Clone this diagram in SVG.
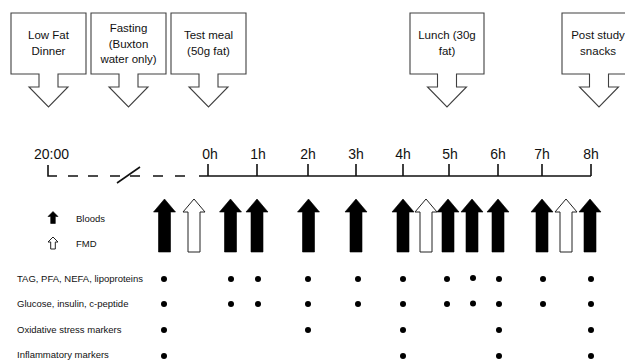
<svg xmlns="http://www.w3.org/2000/svg" width="625" height="360" viewBox="0 0 625 360">
<style>
.box{fill:#fff;stroke:#404040;stroke-width:1.1}
.bt{font-family:"Liberation Sans",Arial,sans-serif;font-size:11.5px;fill:#111;text-anchor:middle}
.hr{font-family:"Liberation Sans",Arial,sans-serif;font-size:14px;fill:#111;text-anchor:middle}
.lb{font-family:"Liberation Sans",Arial,sans-serif;font-size:9.5px;fill:#111}
.ln{stroke:#111;stroke-width:1.6;fill:none}
.blk{fill:#000;stroke:#000;stroke-width:0.6}
.wht{fill:#fff;stroke:#222;stroke-width:1}
.dot{fill:#000}
</style>
<defs>
<path id="ab" d="M0,-26.5 L11,-13.5 H6 V26.5 H-6 V-13.5 H-11 Z"/>
<path id="as" d="M0,-6 L5,-1 H2.3 V6 H-2.3 V-1 H-5 Z"/>
</defs>
<rect width="625" height="360" fill="#fff"/>

<g id="meal-dinner">
<path class="box" d="M11,13 H86 V74 H58 V87 H68 L48.5,107 L29,87 H39 V74 H11 Z"/>
<text class="bt" x="48.5" y="39">Low Fat</text>
<text class="bt" x="48.5" y="55">Dinner</text>
</g>
<g id="meal-fasting">
<path class="box" d="M91,13 H166 V74 H138 V87 H148 L128.5,107 L109,87 H119 V74 H91 Z"/>
<text class="bt" x="128.5" y="32">Fasting</text>
<text class="bt" x="128.5" y="47.5">(Buxton</text>
<text class="bt" x="128.5" y="63">water only)</text>
</g>
<g id="meal-test">
<path class="box" d="M171,13 H246 V74 H218 V87 H228 L208.5,107 L189,87 H199 V74 H171 Z"/>
<text class="bt" x="208.5" y="39">Test meal</text>
<text class="bt" x="208.5" y="55">(50g fat)</text>
</g>
<g id="meal-lunch">
<path class="box" d="M410,13 H484 V74 H456.5 V87 H466.5 L447,107 L427.5,87 H437.5 V74 H410 Z"/>
<text class="bt" x="447" y="39">Lunch (30g</text>
<text class="bt" x="447" y="55">fat)</text>
</g>
<g id="meal-snacks">
<path class="box" d="M562,13 H637 V74 H608.5 V87 H618.5 L599,107 L579.5,87 H589.5 V74 H562 Z"/>
<text class="bt" x="598" y="39">Post study</text>
<text class="bt" x="598" y="55">snacks</text>
</g>

<g id="timeline">
<text class="hr" x="51.5" y="159">20:00</text>
<path class="ln" d="M48,165 V176 H57 M68,176 H78 M88,176 H98 M110,176 H120 M130,176 H140 M153,176 H163 M175,176 H185 M117,183 L140,167"/>
<path class="ln" d="M199,176 H591 M208,164 V176 M257,164 V176 M308,164 V176 M356,164 V176 M403,164 V176 M449,164 V176 M498,164 V176 M542,164 V176 M591,164 V176"/>
<text class="hr" x="210" y="159">0h</text>
<text class="hr" x="258" y="159">1h</text>
<text class="hr" x="308" y="159">2h</text>
<text class="hr" x="356" y="159">3h</text>
<text class="hr" x="403" y="159">4h</text>
<text class="hr" x="450" y="159">5h</text>
<text class="hr" x="498" y="159">6h</text>
<text class="hr" x="542" y="159">7h</text>
<text class="hr" x="591" y="159">8h</text>
</g>

<g id="legend">
<use href="#as" class="blk" x="53" y="217.5"/>
<text class="lb" x="76" y="222">Bloods</text>
<use href="#as" class="wht" x="53" y="243"/>
<text class="lb" x="76" y="247">FMD</text>
</g>

<g id="sampling-arrows">
<use href="#ab" class="blk" x="164.5" y="225.5"/>
<use href="#ab" class="wht" x="194" y="225.5"/>
<use href="#ab" class="blk" x="230.5" y="225.5"/>
<use href="#ab" class="blk" x="257" y="225.5"/>
<use href="#ab" class="blk" x="308.5" y="225.5"/>
<use href="#ab" class="blk" x="356" y="225.5"/>
<use href="#ab" class="blk" x="403" y="225.5"/>
<use href="#ab" class="wht" x="426" y="225.5"/>
<use href="#ab" class="blk" x="448" y="225.5"/>
<use href="#ab" class="blk" x="472" y="225.5"/>
<use href="#ab" class="blk" x="498" y="225.5"/>
<use href="#ab" class="blk" x="542" y="225.5"/>
<use href="#ab" class="wht" x="566" y="225.5"/>
<use href="#ab" class="blk" x="590" y="225.5"/>
</g>

<g id="measures">
<text class="lb" x="17" y="282">TAG, PFA, NEFA, lipoproteins</text>
<text class="lb" x="17" y="307">Glucose, insulin, c-peptide</text>
<text class="lb" x="17" y="333">Oxidative stress markers</text>
<text class="lb" x="17" y="358">Inflammatory markers</text>
<g class="dot">
<circle cx="164" cy="279" r="3"/><circle cx="231" cy="279" r="3"/><circle cx="258" cy="279" r="3"/><circle cx="308" cy="279" r="3"/><circle cx="358" cy="279" r="3"/><circle cx="403" cy="279" r="3"/><circle cx="447" cy="279" r="3"/><circle cx="473" cy="278" r="3"/><circle cx="499" cy="279" r="3"/><circle cx="543" cy="279" r="3"/><circle cx="591" cy="279" r="3"/>
<circle cx="164" cy="304" r="3"/><circle cx="231" cy="304" r="3"/><circle cx="258" cy="304" r="3"/><circle cx="308" cy="304" r="3"/><circle cx="358" cy="304" r="3"/><circle cx="403" cy="304" r="3"/><circle cx="447" cy="304" r="3"/><circle cx="473" cy="303.5" r="3"/><circle cx="499" cy="304" r="3"/><circle cx="543" cy="304" r="3"/><circle cx="591" cy="304" r="3"/>
<circle cx="164" cy="330" r="3"/><circle cx="308" cy="330" r="3"/><circle cx="403" cy="330" r="3"/><circle cx="499" cy="330" r="3"/><circle cx="591" cy="330" r="3"/>
<circle cx="164" cy="356" r="3"/><circle cx="403" cy="356" r="3"/><circle cx="499" cy="356" r="3"/><circle cx="591" cy="356" r="3"/>
</g>
</g>
</svg>
